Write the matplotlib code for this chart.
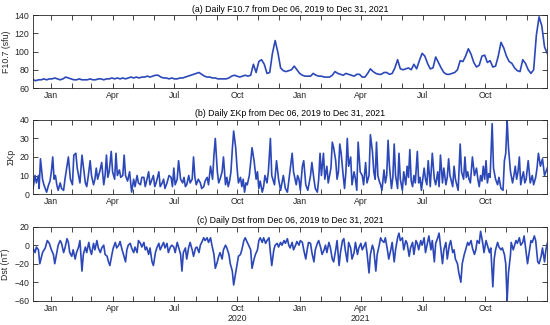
import pandas as pd
import matplotlib
matplotlib.use("Agg")
import matplotlib.pyplot as plt
import matplotlib.dates as mdates
import matplotlib.transforms as mtransforms

plt.rcParams['font.family'] = ['Liberation Sans', 'DejaVu Sans']

start = pd.Timestamp("2019-12-06")
end = pd.Timestamp("2021-12-31")

# F10.7 (sfu), read every 4 days from Dec 06, 2019
f107 = [69, 68, 69, 69, 70, 69, 70, 70, 71, 70,
        69, 70, 72, 71, 70, 69, 69, 70, 69, 69,
        69, 70, 69, 69, 70, 70, 69, 70, 70, 71,
        70, 71, 70, 71, 70, 71, 72, 71, 72, 71,
        72, 72, 73, 72, 73, 74, 74, 72, 71, 71,
        70, 71, 70, 70, 71, 71, 72, 73, 74, 75,
        76, 77, 75, 73, 72, 72, 71, 71, 70, 70,
        70, 70, 71, 73, 74, 73, 72, 73, 74, 73,
        74, 86, 77, 89, 91, 86, 76, 77, 98, 112,
        99, 82, 79, 78, 79, 80, 84, 80, 76, 74,
        73, 73, 73, 76, 74, 73, 73, 72, 72, 72,
        74, 78, 76, 75, 74, 76, 75, 74, 73, 75,
        75, 72, 72, 76, 81, 78, 76, 75, 75, 77,
        77, 75, 76, 82, 91, 81, 80, 81, 82, 80,
        86, 81, 90, 98, 95, 87, 81, 82, 94, 88,
        82, 77, 75, 75, 76, 77, 80, 90, 89, 95,
        103, 97, 88, 83, 85, 95, 96, 88, 90, 83,
        84, 95, 110, 104, 95, 89, 87, 82, 79, 78,
        91, 87, 80, 76, 80, 118, 138, 128, 105, 98]

# daily sum of Kp (day offset from Dec 06, 2019, value)
kp_day = [0, 3, 5, 8, 9, 11, 14, 16, 18, 20,
          23, 25, 27, 29, 31, 33, 35, 37, 40, 42,
          45, 47, 50, 52, 55, 58, 60, 63, 65, 67,
          69, 72, 74, 77, 79, 81, 84, 86, 89, 91,
          93, 95, 98, 101, 104, 106, 108, 110, 112, 115,
          117, 120, 122, 124, 127, 129, 132, 134, 136, 139,
          142, 145, 148, 150, 153, 155, 158, 160, 163, 165,
          167, 170, 172, 175, 177, 179, 181, 183, 185, 187,
          190, 192, 194, 197, 200, 203, 205, 207, 209, 212,
          214, 217, 220, 222, 224, 226, 229, 231, 234, 236,
          238, 240, 243, 246, 248, 251, 253, 256, 258, 261,
          264, 266, 268, 271, 273, 275, 278, 280, 283, 285,
          287, 289, 291, 293, 295, 298, 300, 302, 305, 307,
          309, 311, 313, 315, 318, 320, 322, 325, 328, 330,
          332, 334, 337, 339, 341, 344, 346, 349, 351, 355,
          358, 361, 364, 366, 368, 371, 374, 377, 381, 383,
          387, 389, 391, 393, 396, 398, 401, 404, 406, 408,
          410, 413, 415, 418, 420, 422, 424, 427, 429, 432,
          434, 436, 438, 440, 442, 445, 447, 449, 451, 453,
          456, 458, 460, 462, 464, 467, 469, 472, 474, 476,
          478, 481, 484, 486, 489, 491, 494, 496, 499, 501,
          503, 505, 507, 509, 511, 513, 516, 518, 520, 522,
          524, 527, 529, 531, 533, 536, 538, 540, 543, 545,
          548, 550, 552, 554, 556, 558, 560, 562, 565, 567,
          569, 571, 573, 575, 577, 579, 581, 584, 587, 590,
          592, 595, 597, 599, 602, 604, 607, 609, 611, 613,
          615, 617, 619, 621, 623, 625, 628, 630, 633, 635,
          637, 639, 641, 643, 646, 649, 652, 654, 656, 658,
          660, 662, 664, 666, 668, 670, 672, 675, 677, 680,
          683, 685, 688, 691, 693, 695, 697, 699, 702, 705,
          707, 709, 711, 713, 715, 717, 719, 721, 723, 725,
          728, 731, 734, 736, 739, 741, 743, 746, 749, 752,
          754, 756]
kp_val = [3, 10, 6, 10, 3, 19, 8, 5, 3, 1,
          5, 7, 12, 20, 8, 10, 5, 2, 6, 3,
          2, 8, 15, 20, 8, 5, 21, 22, 14, 10,
          6, 21, 15, 6, 4, 9, 18, 10, 5, 8,
          14, 8, 12, 17, 5, 10, 21, 9, 12, 23,
          12, 8, 22, 10, 13, 9, 10, 21, 10, 7,
          12, 1, 8, 4, 10, 6, 5, 9, 9, 4,
          7, 12, 5, 8, 10, 4, 6, 9, 12, 4,
          6, 8, 3, 6, 10, 9, 4, 14, 5, 8,
          18, 8, 6, 9, 4, 5, 10, 6, 8, 20,
          9, 5, 8, 6, 3, 4, 7, 9, 5, 15,
          8, 21, 30, 12, 6, 8, 12, 20, 5, 9,
          4, 7, 12, 24, 34, 25, 14, 6, 9, 4,
          8, 1, 6, 5, 10, 17, 25, 18, 8, 12,
          3, 7, 1, 4, 10, 6, 12, 30, 10, 5,
          18, 8, 2, 6, 10, 3, 1, 10, 22, 12,
          5, 10, 8, 2, 15, 18, 5, 2, 6, 10,
          17, 8, 3, 1, 8, 22, 10, 22, 8, 15,
          6, 10, 14, 28, 25, 18, 8, 12, 27, 22,
          10, 3, 12, 30, 15, 20, 5, 12, 8, 2,
          28, 12, 10, 5, 17, 6, 10, 32, 23, 12,
          8, 28, 10, 7, 5, 2, 13, 6, 10, 29,
          15, 3, 9, 27, 10, 3, 22, 8, 2, 12,
          5, 15, 9, 24, 7, 4, 10, 6, 23, 6,
          9, 2, 8, 14, 8, 5, 18, 4, 22, 8,
          5, 12, 4, 21, 6, 14, 5, 9, 19, 10,
          7, 4, 15, 8, 5, 2, 27, 12, 8, 20,
          9, 12, 8, 6, 20, 10, 14, 8, 4, 10,
          7, 15, 8, 18, 6, 11, 9, 38, 14, 8,
          5, 9, 3, 2, 18, 22, 40, 25, 12, 6,
          10, 15, 8, 12, 20, 5, 9, 12, 6, 8,
          18, 6, 10, 5, 9, 14, 22, 15, 19, 10,
          12, 14]

# daily Dst (nT)
dst_day = [0, 3, 5, 8, 10, 14, 18, 21, 24, 27,
           30, 32, 35, 37, 40, 42, 45, 47, 50, 52,
           54, 57, 59, 62, 64, 67, 69, 72, 74, 77,
           79, 82, 84, 86, 89, 91, 94, 96, 99, 101,
           104, 106, 109, 111, 113, 116, 118, 121, 123, 126,
           128, 131, 133, 136, 138, 140, 143, 145, 148, 150,
           153, 155, 158, 160, 163, 165, 167, 170, 172, 175,
           177, 180, 182, 185, 187, 190, 192, 194, 197, 199,
           202, 204, 207, 209, 212, 214, 217, 219, 221, 224,
           226, 229, 231, 234, 236, 239, 241, 244, 246, 248,
           251, 253, 256, 258, 261, 263, 266, 268, 271, 273,
           275, 278, 280, 283, 285, 288, 290, 293, 295, 298,
           300, 302, 305, 307, 310, 312, 315, 317, 320, 322,
           325, 327, 330, 332, 334, 337, 339, 342, 344, 347,
           349, 351, 354, 356, 359, 361, 364, 366, 369, 371,
           374, 376, 378, 381, 383, 386, 388, 391, 393, 396,
           398, 401, 403, 405, 408, 410, 413, 415, 418, 420,
           423, 425, 428, 430, 432, 435, 437, 440, 442, 445,
           447, 450, 452, 455, 457, 459, 462, 464, 467, 469,
           472, 474, 477, 479, 482, 484, 486, 489, 491, 494,
           496, 499, 501, 504, 506, 509, 511, 513, 516, 518,
           521, 523, 526, 528, 531, 533, 536, 538, 540, 543,
           545, 548, 550, 553, 555, 558, 560, 563, 565, 567,
           570, 572, 575, 577, 580, 582, 585, 587, 590, 592,
           595, 597, 599, 602, 604, 607, 609, 612, 614, 617,
           619, 621, 624, 626, 629, 631, 634, 636, 639, 641,
           644, 646, 649, 651, 653, 656, 658, 661, 663, 666,
           668, 671, 673, 676, 678, 680, 683, 685, 688, 690,
           693, 695, 697, 699, 702, 703, 706, 710, 712, 715,
           717, 720, 722, 725, 727, 730, 732, 734, 737, 739,
           742, 744, 747, 749, 752, 754, 756]
dst_val = [-3, -8, -2, -5, -20, -8, -3, 5, 2, -5,
           -10, -20, -8, 0, 5, 2, -8, -3, 7, 3,
           -8, -12, -5, -15, -8, -2, 5, -28, -10, -2,
           -8, 3, -5, -10, 2, -5, 5, -3, -8, -3,
           0, -10, -12, -18, -22, -10, -3, 3, -3, 0,
           4, -5, -10, -18, -5, 0, 2, -3, -8, -2,
           -8, 5, 2, -2, 3, -5, -2, -10, -3, -18,
           -22, -8, -3, 2, -5, 0, 3, -3, 2, -8,
           -2, 0, -2, -8, 3, -2, -10, -28, -8, -3,
           -15, -2, 3, -5, -12, -3, -2, -8, 0, 3,
           8, 5, 8, 3, 8, 0, -10, -25, -18, -12,
           -8, -15, -5, 0, -3, -10, -20, -28, -43, -30,
           -22, -12, -10, -5, 5, 8, 3, 0, -5, -25,
           -15, -10, -5, 5, 8, 3, 8, 2, 5, 8,
           -8, -22, -5, 0, 2, -2, 3, 0, 5, 2,
           7, 0, -3, 3, -5, 0, 4, 0, 5, 3,
           -5, -15, -5, 3, 2, -8, -18, -5, 2, 5,
           -3, -10, -5, 0, -8, 3, -2, -15, -18, -5,
           5, -22, -8, 5, 7, -5, -18, 3, -3, -15,
           -8, 3, -10, -3, 2, -5, -2, 3, -8, -30,
           -10, 0, -5, -28, -10, 0, 8, 5, 3, 8,
           -5, -15, -5, 3, -18, -5, 8, 13, 5, 8,
           -5, 5, 2, -12, -3, 3, -10, 5, 2, -5,
           5, 0, 8, -8, 3, 10, -5, 5, -18, 2,
           8, 13, 0, -20, -5, 3, -15, 0, 5, -8,
           -5, -15, -20, -30, -40, -20, -10, -5, 3, 0,
           5, -3, -10, -5, 5, 2, 15, 3, -8, 5,
           0, -8, -3, -45, -15, -5, 3, -2, -5, -3,
           -10, -20, -60, -30, -10, 3, -5, 5, 2, 8,
           0, 3, 10, -8, -20, -5, 5, 3, 10, 5,
           -18, -20, -12, -3, -18, -5, 2]

f107_dates = pd.date_range(start, periods=len(f107), freq="4D")
kp_dates = start + pd.to_timedelta(kp_day, unit="D")
dst_dates = start + pd.to_timedelta(dst_day, unit="D")

line_color = "#2c48b8"
axis_color = "#262626"
fs = 6.3

panels = [
    (f107_dates, f107, "(a) Daily F10.7 from Dec 06, 2019 to Dec 31, 2021",
     "F10.7 (sfu)", (60, 140), [60, 80, 100, 120, 140]),
    (kp_dates, kp_val, "(b) Daily ΣKp from Dec 06, 2019 to Dec 31, 2021",
     "ΣKp", (0, 40), [0, 10, 20, 30, 40]),
    (dst_dates, dst_val, "(c) Daily Dst from Dec 06, 2019 to Dec 31, 2021",
     "Dst (nT)", (-60, 20), [-60, -40, -20, 0, 20]),
]

fig = plt.figure(figsize=(5.5, 3.25), dpi=100)
rects = [[0.06, 0.7292, 0.935, 0.2246],
         [0.06, 0.403, 0.935, 0.228],
         [0.06, 0.0748, 0.935, 0.2277]]

axes = []
for rect, (x, y, title, ylab, ylim, yt) in zip(rects, panels):
    ax = fig.add_axes(rect)
    ax.plot(x, y, color=line_color, lw=1.2)
    ax.set_xlim(start, end)
    ax.set_ylim(*ylim)
    ax.set_yticks(yt)
    ax.xaxis.set_major_locator(mdates.MonthLocator(bymonth=[1, 4, 7, 10]))
    ax.xaxis.set_major_formatter(mdates.DateFormatter("%b"))
    ax.xaxis.set_minor_locator(mdates.MonthLocator())
    ax.tick_params(which="both", direction="in", top=True, right=True,
                   length=3.5, width=0.6, labelsize=fs, colors=axis_color, pad=2.5)
    for s in ax.spines.values():
        s.set_linewidth(0.6)
        s.set_color(axis_color)
    ax.set_title(title, fontsize=fs, pad=2.5, color="black")
    ax.set_ylabel(ylab, fontsize=fs, labelpad=3, color=axis_color)
    axes.append(ax)

# year labels under the last panel
trans = mtransforms.blended_transform_factory(axes[2].transData, axes[2].transAxes)
axes[2].text(pd.Timestamp("2020-10-01"), -0.235, "2020", transform=trans,
             ha="center", va="center", fontsize=fs, color=axis_color)
axes[2].text(pd.Timestamp("2021-04-01"), -0.235, "2021", transform=trans,
             ha="center", va="center", fontsize=fs, color=axis_color)

fig.savefig("out.png", dpi=100)
